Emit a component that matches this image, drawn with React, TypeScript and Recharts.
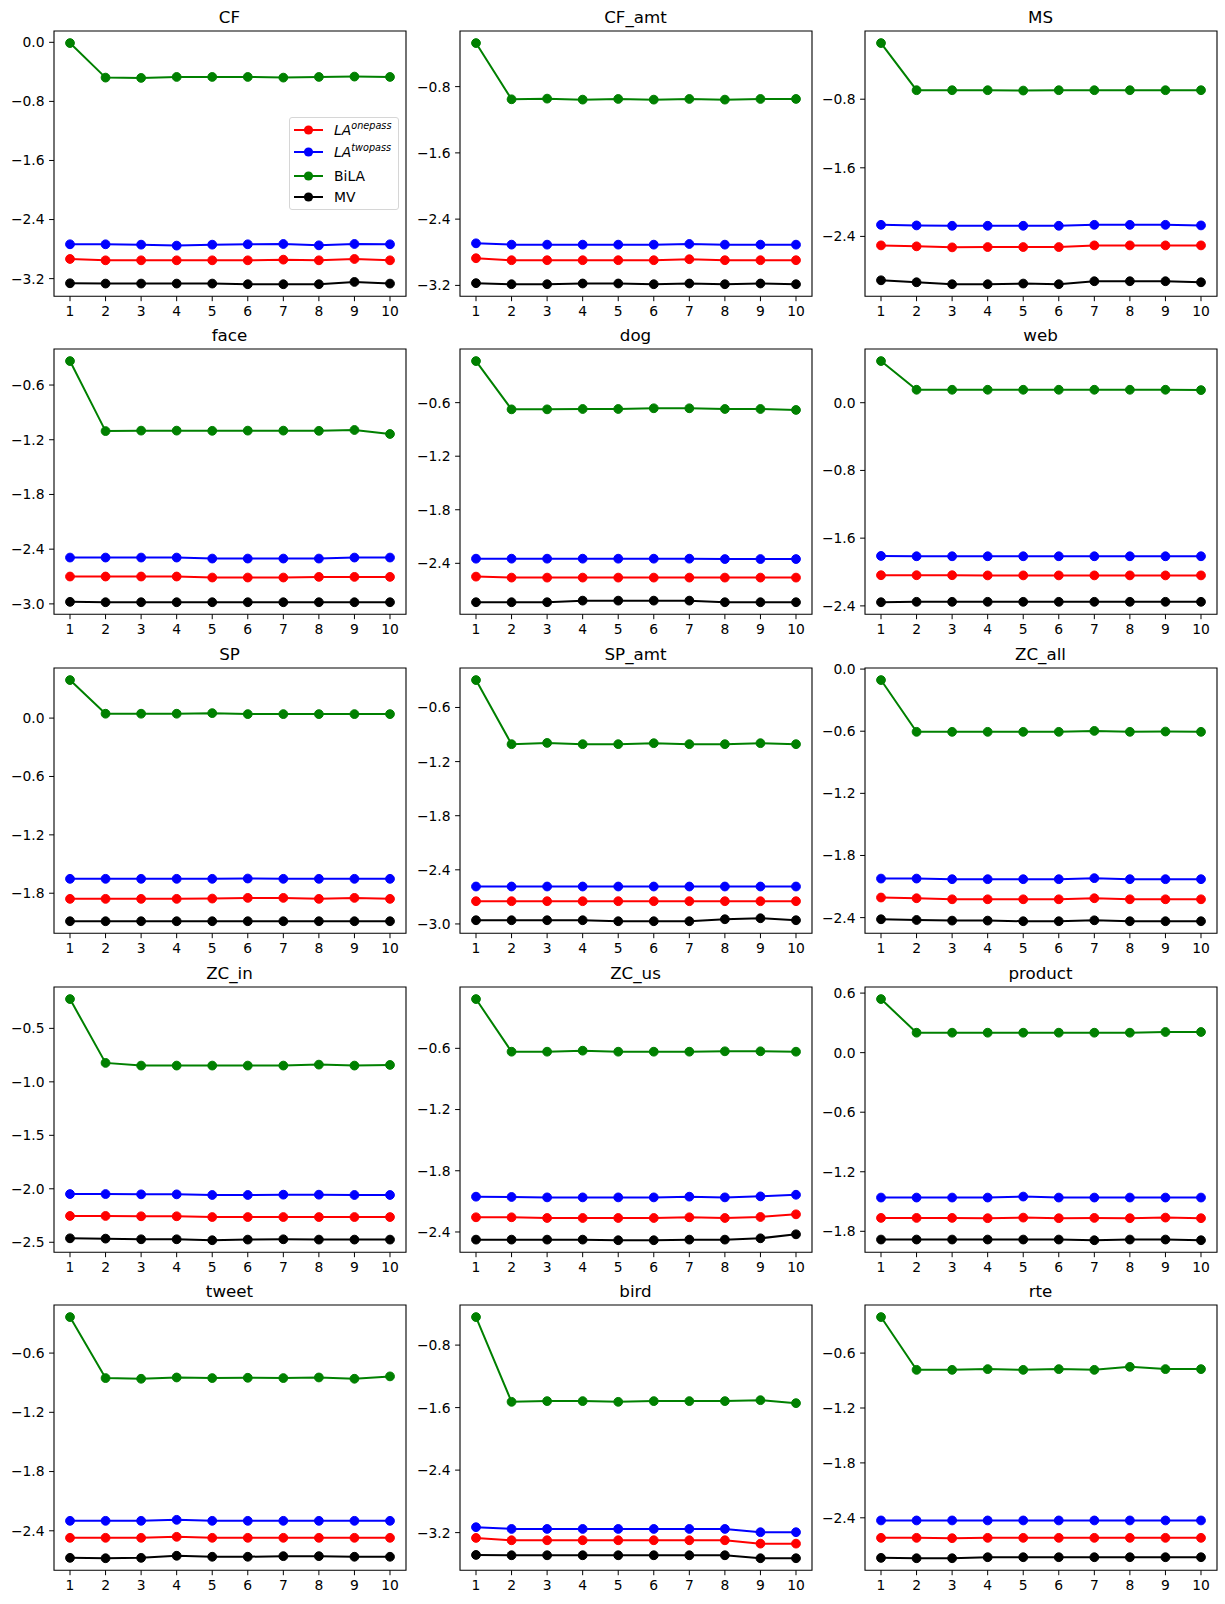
import React from "react";
import { LineChart, Line, XAxis, YAxis, ReferenceArea, Legend } from "recharts";

// one panel per dataset, read left-to-right, top-to-bottom
const titles = [
  "CF", "CF_amt", "MS",
  "face", "dog", "web",
  "SP", "SP_amt", "ZC_all",
  "ZC_in", "ZC_us", "product",
  "tweet", "bird", "rte",
];

const iterations = [1, 2, 3, 4, 5, 6, 7, 8, 9, 10];

const yTicks: number[][] = [
  [0, -0.8, -1.6, -2.4, -3.2],
  [-0.8, -1.6, -2.4, -3.2],
  [-0.8, -1.6, -2.4],
  [-0.6, -1.2, -1.8, -2.4, -3.0],
  [-0.6, -1.2, -1.8, -2.4],
  [0, -0.8, -1.6, -2.4],
  [0, -0.6, -1.2, -1.8],
  [-0.6, -1.2, -1.8, -2.4, -3.0],
  [0, -0.6, -1.2, -1.8, -2.4],
  [-0.5, -1.0, -1.5, -2.0, -2.5],
  [-0.6, -1.2, -1.8, -2.4],
  [0.6, 0, -0.6, -1.2, -1.8],
  [-0.6, -1.2, -1.8, -2.4],
  [-0.8, -1.6, -2.4, -3.2],
  [-0.6, -1.2, -1.8, -2.4],
];

const laOnepass: number[][] = [
  [-2.934, -2.952, -2.952, -2.952, -2.952, -2.952, -2.943, -2.952, -2.934, -2.952], // CF
  [-2.872, -2.896, -2.896, -2.896, -2.896, -2.896, -2.884, -2.896, -2.896, -2.896], // CF_amt
  [-2.505, -2.516, -2.528, -2.524, -2.524, -2.524, -2.505, -2.505, -2.505, -2.505], // MS
  [-2.7, -2.7, -2.7, -2.7, -2.711, -2.711, -2.711, -2.704, -2.704, -2.704], // face
  [-2.549, -2.56, -2.56, -2.56, -2.56, -2.56, -2.56, -2.56, -2.56, -2.56], // dog
  [-2.038, -2.038, -2.038, -2.04, -2.04, -2.04, -2.04, -2.04, -2.04, -2.04], // web
  [-1.858, -1.858, -1.858, -1.858, -1.855, -1.848, -1.848, -1.858, -1.848, -1.858], // SP
  [-2.748, -2.748, -2.748, -2.748, -2.748, -2.748, -2.748, -2.748, -2.748, -2.748], // SP_amt
  [-2.206, -2.213, -2.223, -2.223, -2.223, -2.223, -2.213, -2.223, -2.223, -2.223], // ZC_all
  [-2.254, -2.254, -2.257, -2.257, -2.264, -2.264, -2.264, -2.264, -2.264, -2.264], // ZC_in
  [-2.256, -2.256, -2.263, -2.263, -2.263, -2.263, -2.256, -2.263, -2.253, -2.227], // ZC_us
  [-1.665, -1.665, -1.665, -1.668, -1.662, -1.668, -1.665, -1.668, -1.662, -1.668], // product
  [-2.471, -2.471, -2.471, -2.461, -2.471, -2.471, -2.471, -2.471, -2.471, -2.471], // tweet
  [-3.268, -3.298, -3.298, -3.298, -3.298, -3.298, -3.298, -3.298, -3.341, -3.341], // bird
  [-2.619, -2.619, -2.623, -2.619, -2.619, -2.619, -2.619, -2.619, -2.619, -2.619], // rte
];

const laTwopass: number[][] = [
  [-2.735, -2.735, -2.74, -2.753, -2.74, -2.735, -2.731, -2.749, -2.731, -2.735],
  [-2.692, -2.708, -2.708, -2.708, -2.708, -2.708, -2.7, -2.708, -2.708, -2.708],
  [-2.265, -2.272, -2.276, -2.276, -2.276, -2.276, -2.265, -2.265, -2.265, -2.272],
  [-2.492, -2.492, -2.492, -2.492, -2.503, -2.503, -2.503, -2.503, -2.492, -2.492],
  [-2.348, -2.348, -2.348, -2.348, -2.348, -2.348, -2.348, -2.352, -2.352, -2.352],
  [-1.81, -1.814, -1.814, -1.814, -1.814, -1.814, -1.814, -1.814, -1.814, -1.814],
  [-1.652, -1.652, -1.652, -1.652, -1.652, -1.649, -1.652, -1.652, -1.652, -1.652],
  [-2.585, -2.585, -2.585, -2.585, -2.585, -2.585, -2.585, -2.585, -2.585, -2.585],
  [-2.023, -2.023, -2.029, -2.029, -2.029, -2.029, -2.019, -2.029, -2.029, -2.029],
  [-2.049, -2.049, -2.052, -2.052, -2.058, -2.058, -2.055, -2.055, -2.058, -2.058],
  [-2.054, -2.057, -2.061, -2.061, -2.061, -2.061, -2.054, -2.061, -2.051, -2.035],
  [-1.46, -1.46, -1.46, -1.46, -1.45, -1.46, -1.46, -1.46, -1.46, -1.46],
  [-2.299, -2.299, -2.299, -2.289, -2.299, -2.299, -2.299, -2.299, -2.299, -2.299],
  [-3.131, -3.153, -3.153, -3.153, -3.153, -3.153, -3.153, -3.153, -3.195, -3.195],
  [-2.429, -2.429, -2.429, -2.429, -2.429, -2.429, -2.429, -2.429, -2.429, -2.429],
];

const biLA: number[][] = [
  [-0.01, -0.478, -0.482, -0.469, -0.469, -0.469, -0.478, -0.469, -0.464, -0.469],
  [-0.274, -0.953, -0.945, -0.957, -0.949, -0.957, -0.949, -0.957, -0.949, -0.949],
  [-0.145, -0.695, -0.695, -0.695, -0.699, -0.695, -0.695, -0.695, -0.695, -0.695],
  [-0.337, -1.105, -1.1, -1.1, -1.102, -1.1, -1.1, -1.102, -1.093, -1.137],
  [-0.134, -0.675, -0.675, -0.671, -0.671, -0.663, -0.663, -0.671, -0.671, -0.682],
  [0.492, 0.153, 0.153, 0.153, 0.153, 0.153, 0.153, 0.153, 0.153, 0.149],
  [0.391, 0.045, 0.045, 0.045, 0.051, 0.041, 0.041, 0.041, 0.041, 0.041],
  [-0.296, -1.007, -0.993, -1.007, -1.007, -0.996, -1.007, -1.007, -0.996, -1.007],
  [-0.106, -0.606, -0.606, -0.606, -0.606, -0.606, -0.597, -0.606, -0.603, -0.606],
  [-0.226, -0.823, -0.848, -0.848, -0.848, -0.848, -0.848, -0.839, -0.848, -0.842],
  [-0.117, -0.633, -0.633, -0.623, -0.633, -0.633, -0.633, -0.629, -0.629, -0.633],
  [0.54, 0.201, 0.201, 0.201, 0.201, 0.201, 0.201, 0.201, 0.208, 0.208],
  [-0.235, -0.853, -0.86, -0.847, -0.853, -0.85, -0.853, -0.847, -0.86, -0.836],
  [-0.441, -1.526, -1.517, -1.517, -1.526, -1.517, -1.517, -1.517, -1.505, -1.543],
  [-0.206, -0.783, -0.783, -0.775, -0.783, -0.775, -0.783, -0.75, -0.775, -0.775],
];

const mv: number[][] = [
  [-3.263, -3.267, -3.267, -3.267, -3.267, -3.276, -3.276, -3.276, -3.245, -3.267],
  [-3.173, -3.186, -3.186, -3.177, -3.177, -3.186, -3.177, -3.186, -3.177, -3.186],
  [-2.912, -2.935, -2.958, -2.958, -2.95, -2.958, -2.923, -2.923, -2.923, -2.935],
  [-2.978, -2.982, -2.982, -2.982, -2.982, -2.982, -2.982, -2.982, -2.982, -2.982],
  [-2.836, -2.836, -2.836, -2.818, -2.818, -2.818, -2.818, -2.836, -2.836, -2.836],
  [-2.357, -2.352, -2.352, -2.352, -2.352, -2.352, -2.352, -2.352, -2.352, -2.352],
  [-2.088, -2.088, -2.088, -2.088, -2.088, -2.088, -2.088, -2.088, -2.088, -2.088],
  [-2.959, -2.959, -2.959, -2.959, -2.97, -2.97, -2.97, -2.948, -2.937, -2.959],
  [-2.416, -2.423, -2.429, -2.429, -2.435, -2.435, -2.426, -2.435, -2.435, -2.435],
  [-2.463, -2.466, -2.472, -2.472, -2.481, -2.475, -2.472, -2.475, -2.475, -2.475],
  [-2.475, -2.475, -2.475, -2.475, -2.481, -2.481, -2.475, -2.475, -2.462, -2.423],
  [-1.883, -1.883, -1.883, -1.883, -1.883, -1.883, -1.89, -1.883, -1.883, -1.89],
  [-2.674, -2.678, -2.674, -2.653, -2.663, -2.663, -2.657, -2.657, -2.663, -2.663],
  [-3.486, -3.49, -3.49, -3.49, -3.49, -3.49, -3.49, -3.49, -3.528, -3.528],
  [-2.838, -2.842, -2.842, -2.831, -2.831, -2.831, -2.831, -2.831, -2.831, -2.831],
];

const series = [
  { key: "onepass", name: "LA^onepass", color: "#ff0000", values: laOnepass },
  { key: "twopass", name: "LA^twopass", color: "#0000ff", values: laTwopass },
  { key: "bila", name: "BiLA", color: "#008000", values: biLA },
  { key: "mv", name: "MV", color: "#000000", values: mv },
];

// matplotlib-ish geometry (figure at ~100 dpi)
const COL_LEFT = [53.5, 459.5, 864.5];
const ROW_TOP0 = 30.7;
const ROW_PITCH = 318.65;
const PLOT_W = 352;
const PLOT_H = 265.3;
const Y_AXIS_W = 60;
const TOP_PAD = 30;
const X_AXIS_H = 31;
const TICK_FONT = 13.9;

const fmt = (v: number) =>
  (v < -1e-9 ? "\u2212" : "") + Math.abs(v).toFixed(1);

function SeriesLabel({ name }: { name: string }) {
  if (name.startsWith("LA^")) {
    return (
      <span style={{ fontStyle: "italic" }}>
        LA
        <sup style={{ fontSize: 9.7, verticalAlign: "6px", lineHeight: 0 }}>
          {name.slice(3)}
        </sup>
      </span>
    );
  }
  return <span>{name}</span>;
}

const LEGEND_ROW_CENTERS = [12, 34, 58, 79];

// legend keeps the plotting order (recharts would sort the payload by name)
function LegendBox() {
  return (
    <div
      style={{
        position: "relative",
        width: 110,
        height: 93,
        boxSizing: "border-box",
        border: "1px solid #d6d6d6",
        borderRadius: 3,
        background: "rgba(255,255,255,0.8)",
      }}
    >
      {series.map((s, i) => (
        <div
          key={s.key}
          style={{
            position: "absolute",
            left: 4,
            top: LEGEND_ROW_CENTERS[i] - 10,
            height: 20,
            display: "flex",
            alignItems: "center",
          }}
        >
          <svg width={29} height={12} style={{ display: "block" }}>
            <line x1={0} y1={6} x2={29} y2={6} stroke={s.color} strokeWidth={2} />
            <circle cx={14.5} cy={6} r={4.6} fill={s.color} />
          </svg>
          <span
            style={{
              marginLeft: 11,
              fontSize: TICK_FONT,
              color: "#000",
              whiteSpace: "nowrap",
              lineHeight: "14px",
            }}
          >
            <SeriesLabel name={s.name} />
          </span>
        </div>
      ))}
    </div>
  );
}

function Panel({ p }: { p: number }) {
  const rows = iterations.map((x, i) => {
    const row: Record<string, number> = { x };
    series.forEach((s) => {
      row[s.key] = s.values[p][i];
    });
    return row;
  });
  const all = series.flatMap((s) => s.values[p]);
  const mn = Math.min(...all);
  const mx = Math.max(...all);
  const pad = (mx - mn) * 0.05;
  const lo = mn - pad;
  const hi = mx + pad;

  const col = p % 3;
  const r = Math.floor(p / 3);
  const left = COL_LEFT[col] - Y_AXIS_W;
  const top = ROW_TOP0 + r * ROW_PITCH - TOP_PAD;
  const width = Y_AXIS_W + PLOT_W + 2;
  const height = TOP_PAD + PLOT_H + X_AXIS_H;

  return (
    <div style={{ position: "absolute", left, top, width, height }}>
      <div
        style={{
          position: "absolute",
          left: Y_AXIS_W,
          width: PLOT_W,
          top: 8,
          textAlign: "center",
          fontSize: 16.7,
          lineHeight: "16.7px",
          color: "#000",
        }}
      >
        {titles[p]}
      </div>
      <LineChart
        width={width}
        height={height}
        data={rows}
        margin={{ top: TOP_PAD, right: 2, bottom: 0, left: 0 }}
      >
        <XAxis
          type="number"
          dataKey="x"
          domain={[0.55, 10.45]}
          ticks={iterations}
          interval={0}
          allowDataOverflow
          axisLine={false}
          tickLine={{ stroke: "#000", strokeWidth: 1 }}
          tickSize={4.9}
          tickMargin={4.5}
          height={X_AXIS_H}
          tick={{ fill: "#000", fontSize: TICK_FONT }}
        />
        <YAxis
          type="number"
          domain={[lo, hi]}
          ticks={yTicks[p]}
          interval={0}
          allowDataOverflow
          axisLine={false}
          tickLine={{ stroke: "#000", strokeWidth: 1 }}
          tickSize={4.9}
          tickMargin={4.5}
          width={Y_AXIS_W}
          tick={{ fill: "#000", fontSize: TICK_FONT }}
          tickFormatter={fmt}
        />
        {series.map((s) => (
          <Line
            key={s.key}
            type="linear"
            dataKey={s.key}
            name={s.name}
            stroke={s.color}
            strokeWidth={2}
            dot={{ r: 4.4, fill: s.color, stroke: s.color, strokeWidth: 1 }}
            activeDot={false}
            isAnimationActive={false}
          />
        ))}
        <ReferenceArea
          x1={0.55}
          x2={10.45}
          y1={lo}
          y2={hi}
          ifOverflow="visible"
          fill="none"
          fillOpacity={0}
          stroke="#000"
          strokeWidth={1.1}
        />
        {p === 0 && (
          <Legend
            layout="vertical"
            align="center"
            verticalAlign="middle"
            content={() => <LegendBox />}
            wrapperStyle={{ left: 295.5, top: 116, width: 110, height: 93 }}
          />
        )}
      </LineChart>
    </div>
  );
}

export default function App() {
  return (
    <div
      style={{
        position: "absolute",
        left: 0,
        top: 0,
        width: 1225,
        height: 1604,
        background: "#fff",
        fontFamily: "'DejaVu Sans', sans-serif",
      }}
    >
      {titles.map((_, p) => (
        <Panel key={p} p={p} />
      ))}
    </div>
  );
}
